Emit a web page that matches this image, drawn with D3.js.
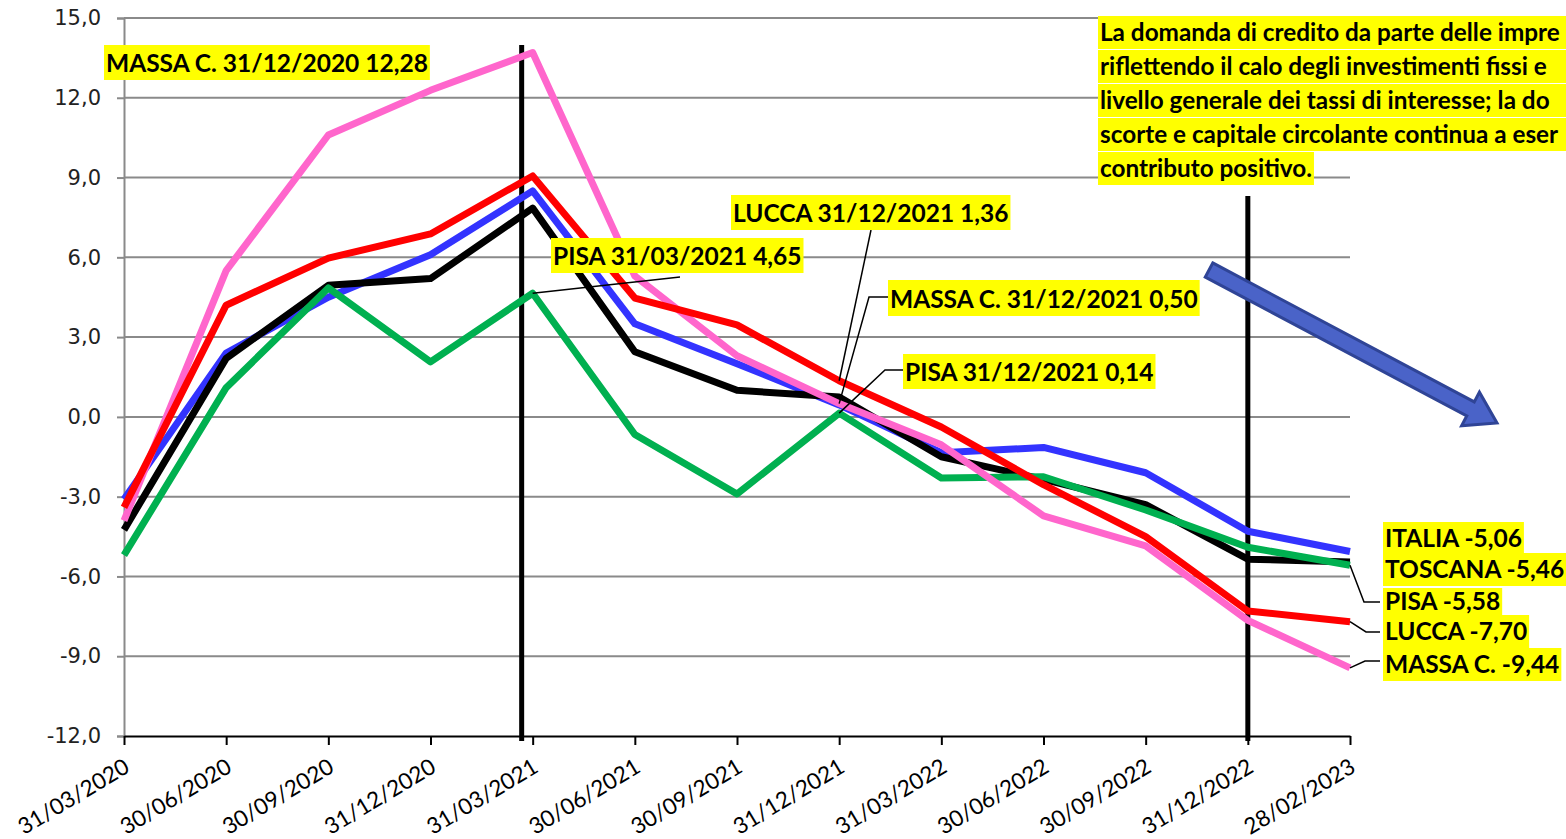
<!DOCTYPE html>
<html><head><meta charset="utf-8">
<script src="https://cdn.jsdelivr.net/npm/d3@7"></script>
<style>html,body{margin:0;padding:0;background:#fff;overflow:hidden}</style>
</head><body>
<svg id="c" width="1566" height="839"></svg>
<script>
const categories = ["31/03/2020","30/06/2020","30/09/2020","31/12/2020","31/03/2021","30/06/2021","30/09/2021","31/12/2021","31/03/2022","30/06/2022","30/09/2022","31/12/2022","28/02/2023"];
const italia  = [-3.1, 2.4, 4.5, 6.1, 8.5, 3.5, 2.0, 0.45, -1.35, -1.15, -2.1, -4.3, -5.06];
const toscana = [-4.25, 2.2, 4.95, 5.2, 7.85, 2.45, 1.0, 0.75, -1.5, -2.35, -3.3, -5.35, -5.46];
const pisa    = [-5.2, 1.1, 4.85, 2.07, 4.65, -0.66, -2.9, 0.14, -2.3, -2.25, -3.5, -4.9, -5.58];
const lucca   = [-3.4, 4.2, 5.97, 6.88, 9.06, 4.47, 3.46, 1.36, -0.38, -2.55, -4.5, -7.3, -7.70];
const massa   = [-3.9, 5.5, 10.6, 12.28, 13.7, 5.3, 2.3, 0.50, -1.05, -3.72, -4.85, -7.65, -9.44];
const yTicks = [-12, -9, -6, -3, 0, 3, 6, 9, 12, 15];
const endLabels = ["ITALIA -5,06", "TOSCANA -5,46", "PISA -5,58", "LUCCA -7,70", "MASSA C. -9,44"];
const noteLines = ["La domanda di credito da parte delle impre",
                   "riflettendo il calo degli investimenti fissi e ",
                   "livello generale dei tassi di interesse; la do",
                   "scorte e capitale circolante continua a eser",
                   "contributo positivo."];

const series = [
  {name:"ITALIA", values: italia, color:"#3333FF"},
  {name:"TOSCANA", values: toscana, color:"#000000"},
  {name:"PISA", values: pisa, color:"#00B050"},
  {name:"MASSA C.", values: massa, color:"#FF66CC"},
  {name:"LUCCA", values: lucca, color:"#FF0000"}
];

const svg = d3.select("#c");
const x = d3.scalePoint().domain(categories).range([124, 1350]);
const y = d3.scaleLinear().domain([-12, 15]).range([736, 18]);

// gridlines
svg.append("g").selectAll("line").data(yTicks.filter(d => d > -12)).join("line")
  .attr("x1", 124).attr("x2", 1350).attr("y1", d => y(d)).attr("y2", d => y(d))
  .attr("stroke", "#8a8a8a").attr("stroke-width", 2);

// y axis
const ya = svg.append("g").attr("transform", "translate(124,0)")
  .call(d3.axisLeft(y).tickValues(yTicks).tickSize(7).tickPadding(16)
    .tickFormat(d => d.toFixed(1).replace(".", ",")));
ya.select(".domain").attr("stroke", "#8a8a8a").attr("stroke-width", 2);
ya.selectAll(".tick line").attr("stroke", "#8a8a8a").attr("stroke-width", 2);
ya.selectAll(".tick text").attr("font-family", "DejaVu Sans, Verdana, sans-serif")
  .attr("font-size", 21).attr("fill", "#222");

// x axis
const xa = svg.append("g").attr("transform", "translate(0,736)")
  .call(d3.axisBottom(x).tickSize(9).tickSizeOuter(0).tickFormat(""));
xa.select(".domain").attr("stroke", "#000").attr("stroke-width", 2);
xa.selectAll(".tick line").attr("stroke", "#000").attr("stroke-width", 2);
svg.append("g").selectAll("text").data(categories).join("text")
  .attr("transform", d => `translate(${x(d) + 7},${771}) rotate(-31)`)
  .attr("text-anchor", "end")
  .attr("font-family", "Lato, Calibri, sans-serif").attr("font-size", 22.5)
  .attr("fill", "#000").text(d => d);

// vertical marker lines
svg.append("line").attr("x1", x(categories[4]) - 11).attr("x2", x(categories[4]) - 11)
  .attr("y1", 45).attr("y2", 741).attr("stroke", "#000").attr("stroke-width", 5);
svg.append("line").attr("x1", x(categories[11])).attr("x2", x(categories[11]))
  .attr("y1", 196).attr("y2", 741).attr("stroke", "#000").attr("stroke-width", 5);

// series lines
const line = d3.line().x((d, i) => x(categories[i])).y(d => y(d));
svg.append("g").selectAll("path").data(series).join("path")
  .attr("d", s => line(s.values)).attr("fill", "none")
  .attr("stroke", s => s.color).attr("stroke-width", 7)
  .attr("stroke-linejoin", "round").attr("stroke-linecap", "butt");

// leader lines
const leaders = [
  [[680, 277], [x(categories[4]), y(pisa[4])]],
  [[871, 230], [x(categories[7]), y(lucca[7])]],
  [[888, 297], [869, 297], [x(categories[7]), y(massa[7])]],
  [[903, 370], [885, 370], [x(categories[7]), y(pisa[7])]],
  [[x(categories[12]), y(pisa[12])], [1364, 602], [1380, 602]],
  [[x(categories[12]), y(lucca[12])], [1366, 632], [1380, 632]],
  [[x(categories[12]), y(massa[12])], [1365, 661], [1380, 661]]
];
svg.append("g").selectAll("path").data(leaders).join("path")
  .attr("d", d => d3.line()(d)).attr("fill", "none")
  .attr("stroke", "#000").attr("stroke-width", 1.5);

// annotation labels with yellow background
function note(text, x0, top, h, fs, toEdge) {
  const g = svg.append("g");
  const r = g.append("rect").attr("fill", "#FFFF00");
  const t = g.append("text").attr("x", x0 + 2).attr("y", top + h * 0.77)
    .attr("font-family", "Lato, Calibri, sans-serif").attr("font-weight", "bold")
    .attr("font-size", fs).attr("fill", "#000").text(text);
  const w = t.node().getComputedTextLength();
  r.attr("x", x0).attr("y", top).attr("width", toEdge ? 1566 - x0 : Math.min(w + 4, 1566 - x0)).attr("height", h);
}
note("MASSA C. 31/12/2020 12,28", 104, 45, 35, 24.5);
note("LUCCA 31/12/2021 1,36", 731, 195, 35, 24.5);
note("PISA 31/03/2021 4,65", 551, 238, 35, 24.5);
note("MASSA C. 31/12/2021 0,50", 888, 280, 36, 24.5);
note("PISA 31/12/2021 0,14", 903, 354, 35, 24.5);

const endTops = [522, 553, 588, 615, 648];
endLabels.forEach((t, i) => note(t, 1383, endTops[i], i === 2 ? 28 : 33, 24.5));

noteLines.forEach((t, i) => note(t, 1098, 16 + i * 34, 33, 24.3, i < 4));

// blue arrow
const ax0 = 1209, ay0 = 270, ax1 = 1497, ay1 = 423;
const ang = Math.atan2(ay1 - ay0, ax1 - ax0) * 180 / Math.PI;
const L = Math.hypot(ax1 - ax0, ay1 - ay0);
svg.append("path")
  .attr("transform", `translate(${ax0},${ay0}) rotate(${ang})`)
  .attr("d", `M0,-8 L${L - 30},-8 L${L - 30},-19 L${L},0 L${L - 30},19 L${L - 30},8 L0,8 Z`)
  .attr("fill", "#4A63C8").attr("stroke", "#2F4496").attr("stroke-width", 3)
  .attr("stroke-linejoin", "miter");
</script>
</body></html>
